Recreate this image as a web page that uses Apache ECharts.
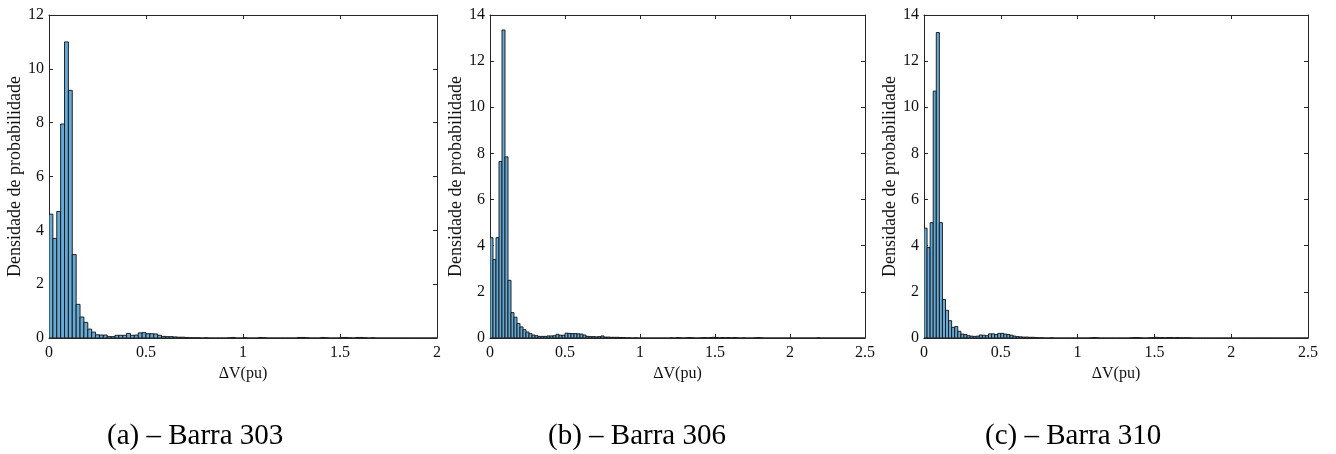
<!DOCTYPE html>
<html>
<head>
<meta charset="utf-8">
<script src="https://cdn.jsdelivr.net/npm/echarts@6/dist/echarts.min.js"></script>
<style>html,body{margin:0;padding:0;background:#fff}#c{width:1336px;height:454px}</style>
</head>
<body>
<div id="c"></div>
<script>
// ---- data ----
const binWidth = 0.02;
const captions = ['(a) – Barra 303', '(b) – Barra 306', '(c) – Barra 310'];
const yLabel = 'Densidade de probabilidade';
const xLabel = 'ΔV(pu)';
const xMaxs = [2, 2.5, 2.5];
const yMaxs = [12, 14, 14];

const densA = [
  4.6, 3.7, 4.7, 7.95, 11.0, 9.2, 3.1, 1.25, 0.78, 0.58,
  0.33, 0.22, 0.12, 0.11, 0.11, 0.05, 0.05, 0.1, 0.1, 0.1,
  0.17, 0.1, 0.11, 0.19, 0.2, 0.16, 0.16, 0.15, 0.1, 0.06,
  0.05, 0.05, 0.04, 0.03, 0.03, 0.02, 0.01, 0.01, 0.01, 0,
  0.01, 0, 0, 0, 0, 0, 0.01, 0.02, 0, 0,
  0.01, 0, 0, 0, 0.02, 0.01, 0, 0, 0, 0,
  0, 0, 0, 0, 0.02, 0.02, 0.01, 0, 0, 0,
  0.02, 0.01, 0, 0, 0, 0.02, 0.02, 0.01, 0, 0.02,
  0.02, 0.01, 0, 0.01, 0, 0, 0, 0, 0, 0,
  0, 0, 0, 0, 0, 0, 0, 0, 0, 0
];
const densB = [
  4.35, 3.4, 4.35, 7.65, 13.35, 7.85, 2.5, 1.1, 0.9, 0.63,
  0.48, 0.36, 0.26, 0.19, 0.13, 0.1, 0.07, 0.07, 0.07, 0.09,
  0.09, 0.1, 0.16, 0.12, 0.12, 0.21, 0.2, 0.19, 0.19, 0.18,
  0.17, 0.13, 0.07, 0.06, 0.06, 0.05, 0.06, 0.09, 0.04, 0.04,
  0.03, 0.03, 0.03, 0.02, 0.02, 0.01, 0.01, 0, 0.01, 0,
  0, 0, 0, 0, 0, 0, 0, 0, 0, 0,
  0.01, 0, 0.02, 0.01, 0, 0.01, 0.02, 0.01, 0, 0,
  0.01, 0.02, 0.01, 0.02, 0.03, 0.02, 0.01, 0.02, 0.01, 0.02,
  0.01, 0.02, 0.01, 0, 0.01, 0, 0, 0, 0.01, 0.02,
  0.01, 0, 0, 0, 0, 0, 0, 0, 0, 0,
  0, 0, 0, 0, 0, 0, 0, 0, 0, 0.01,
  0, 0, 0, 0, 0, 0, 0, 0, 0, 0,
  0, 0, 0, 0, 0
];
const densC = [
  4.76, 3.92, 5.0, 10.7, 13.24, 5.0, 1.67, 1.2, 0.75, 0.46,
  0.5, 0.29, 0.17, 0.15, 0.1, 0.08, 0.07, 0.08, 0.13, 0.12,
  0.1, 0.18, 0.18, 0.15, 0.2, 0.2, 0.17, 0.15, 0.12, 0.08,
  0.06, 0.05, 0.04, 0.04, 0.03, 0.03, 0.02, 0.01, 0.01, 0,
  0, 0.01, 0, 0, 0, 0, 0, 0, 0, 0,
  0, 0, 0, 0, 0.01, 0.02, 0.01, 0, 0, 0,
  0, 0, 0, 0, 0, 0, 0, 0.01, 0.02, 0.02,
  0.01, 0, 0, 0.01, 0.02, 0.03, 0.02, 0.02, 0.01, 0.02,
  0.02, 0.01, 0.02, 0.01, 0.01, 0.01, 0.01, 0, 0, 0,
  0, 0, 0, 0, 0, 0, 0, 0, 0, 0,
  0, 0, 0, 0, 0, 0, 0, 0, 0, 0,
  0, 0, 0, 0, 0, 0, 0, 0, 0, 0,
  0, 0, 0, 0, 0
];
const allDens = [densA, densB, densC];

// ---- layout ----
const grids = [
  {left: 49, top: 15, width: 388, height: 323},
  {left: 490, top: 15, width: 375, height: 323},
  {left: 924, top: 15, width: 384, height: 323}
];
const captionLeft = [107, 548, 985];
const FONT = 'Liberation Serif, Times New Roman, serif';
const AX = '#262626';
const TXT = '#111';

const xAxes = [], yAxes = [], series = [];
grids.forEach((g, i) => {
  const common = {
    gridIndex: i, type: 'value', min: 0,
    axisLine: {show: true, onZero: false, lineStyle: {color: AX, width: 1}},
    axisTick: {show: true, inside: true, length: 4, lineStyle: {color: AX}},
    splitLine: {show: false}
  };
  xAxes.push(Object.assign({}, common, {
    position: 'bottom', max: xMaxs[i], interval: 0.5,
    axisLabel: {fontFamily: FONT, fontSize: 16, color: TXT, margin: 7},
    name: xLabel, nameLocation: 'middle', nameGap: 26,
    nameTextStyle: {fontFamily: FONT, fontSize: 16, color: TXT}
  }));
  xAxes.push(Object.assign({}, common, {
    position: 'top', max: xMaxs[i], interval: 0.5, axisLabel: {show: false}
  }));
  yAxes.push(Object.assign({}, common, {
    position: 'left', max: yMaxs[i], interval: 2,
    axisLabel: {fontFamily: FONT, fontSize: 16, color: TXT, margin: 5},
    name: yLabel, nameLocation: 'middle', nameGap: 20,
    nameTextStyle: {fontFamily: FONT, fontSize: 18, color: TXT}
  }));
  yAxes.push(Object.assign({}, common, {
    position: 'right', max: yMaxs[i], interval: 2, axisLabel: {show: false}
  }));
  const data = allDens[i].map((v, k) => [k * binWidth, (k + 1) * binWidth, v]);
  series.push({
    type: 'custom',
    xAxisIndex: 2 * i, yAxisIndex: 2 * i,
    data: data,
    clip: true,
    renderItem: function (params, api) {
      const p0 = api.coord([api.value(0), api.value(2)]);
      const p1 = api.coord([api.value(1), 0]);
      return {
        type: 'rect',
        shape: {x: p0[0], y: p0[1], width: p1[0] - p0[0], height: p1[1] - p0[1]},
        style: {fill: '#66AAD7', stroke: '#111', lineWidth: 0.9}
      };
    }
  });
});

const graphic = captions.map((t, i) => ({
  type: 'text', x: captionLeft[i], y: 422,
  style: {text: t, fontFamily: FONT, fontSize: 29, fill: '#000'}
}));

const chart = echarts.init(document.getElementById('c'), null, {renderer: 'canvas'});
chart.setOption({
  animation: false,
  backgroundColor: '#fff',
  grid: grids,
  xAxis: xAxes,
  yAxis: yAxes,
  series: series,
  graphic: graphic
});
</script>
</body>
</html>
